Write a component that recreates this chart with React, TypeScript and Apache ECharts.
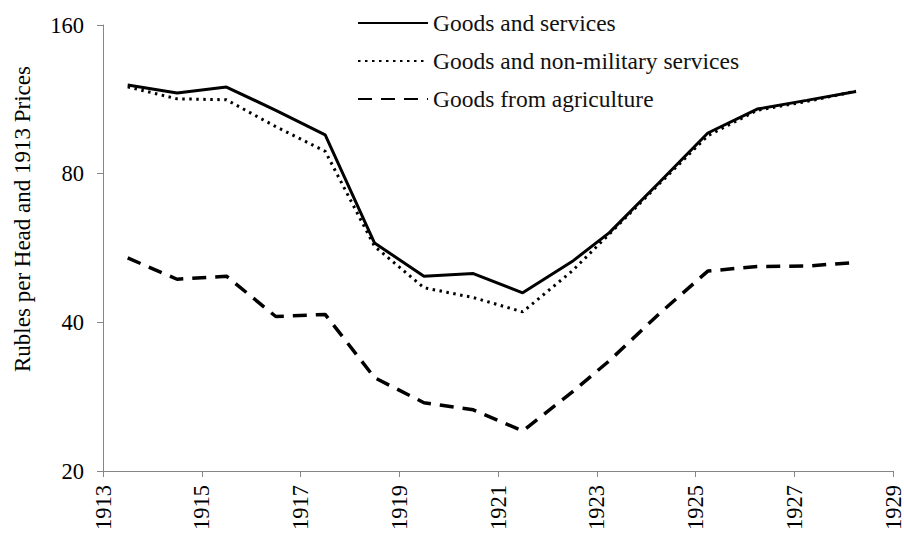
import React, { useEffect, useRef } from "react";
import * as echarts from "echarts";

// Years (mid-point of each period)
const years = [
  1913.5, 1914.5, 1915.5, 1916.5, 1917.5, 1918.5, 1919.5, 1920.5, 1921.5, 1922.5,
  1923.25, 1924.25, 1925.25, 1926.25, 1927.25, 1928.25,
];
const goodsAndServices = [
  121, 116.5, 119.8, 107.5, 95.9, 57.9, 49.6, 50.2, 45.9, 53.1,
  60.7, 76.5, 96.7, 108.1, 112.6, 117.3,
];
const goodsNonMilitary = [
  119.9, 113.4, 112.9, 99.6, 88.8, 57.0, 47.0, 44.9, 42.0, 50.8,
  60.3, 76.0, 95.5, 107.5, 112.0, 117.5,
];
const goodsAgriculture = [
  54.0, 48.9, 49.6, 41.1, 41.5, 30.9, 27.5, 26.6, 24.1, 28.9,
  33.4, 41.5, 50.8, 51.9, 52.0, 52.9,
];
const seriesNames = [
  "Goods and services",
  "Goods and non-military services",
  "Goods from agriculture",
];
const yTicks = [20, 40, 80, 160];
const xStart = 1913;
const xEnd = 1929;
const yTitle = "Rubles per Head and 1913 Prices";

const FONT = "Liberation Serif, Times New Roman, serif";

export default function App() {
  const ref = useRef<HTMLDivElement>(null);
  useEffect(() => {
    if (!ref.current) return;
    const chart = echarts.init(ref.current, undefined, { renderer: "svg" });
    const base = yTicks[0];
    const toPts = (vals: number[]) =>
      vals.map((v, i) => [years[i] - xStart, Math.log2(v / base)]);
    const axisColor = "#868686";
    chart.setOption({
      animation: false,
      backgroundColor: "#ffffff",
      grid: {
        left: 103,
        right: 11,
        top: 25,
        bottom: 65,
        containLabel: false,
        outerBoundsMode: "none",
      },
      legend: {
        orient: "vertical",
        left: 357,
        top: 11,
        padding: 0,
        itemWidth: 70,
        itemHeight: 14,
        itemGap: 14,
        itemStyle: { color: "transparent", borderColor: "transparent", borderWidth: 0 },
        textStyle: { fontFamily: FONT, fontSize: 23.5, color: "#111", lineHeight: 24 },
        data: seriesNames,
      },
      graphic: [
        {
          type: "text",
          x: 22,
          y: 219,
          rotation: Math.PI / 2,
          style: {
            text: yTitle,
            fontFamily: FONT,
            fontSize: 23,
            fill: "#000",
            align: "center",
            verticalAlign: "middle",
          },
        },
      ],
      xAxis: {
        type: "value",
        min: 0,
        max: xEnd - xStart,
        interval: 2,
        axisLine: { show: true, lineStyle: { color: axisColor, width: 1 } },
        axisTick: { show: true, length: 6, lineStyle: { color: axisColor } },
        splitLine: { show: false },
        axisLabel: {
          rotate: 90,
          margin: 14,
          fontFamily: FONT,
          fontSize: 22.5,
          color: "#000",
          formatter: (v: number) => String(xStart + v),
        },
      },
      yAxis: {
        type: "value",
        min: 0,
        max: yTicks.length - 1,
        interval: 1,
        axisLine: { show: true, lineStyle: { color: axisColor, width: 1 } },
        axisTick: { show: true, length: 6, lineStyle: { color: axisColor } },
        splitLine: { show: false },
        axisLabel: {
          margin: 19,
          fontFamily: FONT,
          fontSize: 22.5,
          color: "#000",
          padding: [4, 0, 0, 0],
          formatter: (v: number) => String(Math.round(base * Math.pow(2, v))),
        },
      },
      series: [
        {
          name: seriesNames[0],
          type: "line",
          symbol: "none",
          data: toPts(goodsAndServices),
          lineStyle: { color: "#000", width: 3, type: "solid" },
          itemStyle: { color: "#000" },
        },
        {
          name: seriesNames[1],
          type: "line",
          symbol: "none",
          data: toPts(goodsNonMilitary),
          lineStyle: { color: "#000", width: 3, type: [2.5, 4.5], cap: "butt" },
          itemStyle: { color: "#000" },
        },
        {
          name: seriesNames[2],
          type: "line",
          symbol: "none",
          data: toPts(goodsAgriculture),
          lineStyle: { color: "#000", width: 3.5, type: [14, 9] },
          itemStyle: { color: "#000" },
        },
      ],
    });
    return () => chart.dispose();
  }, []);
  return (
    <div
      ref={ref}
      style={{ position: "absolute", left: 0, top: 0, width: 904, height: 536 }}
    />
  );
}
